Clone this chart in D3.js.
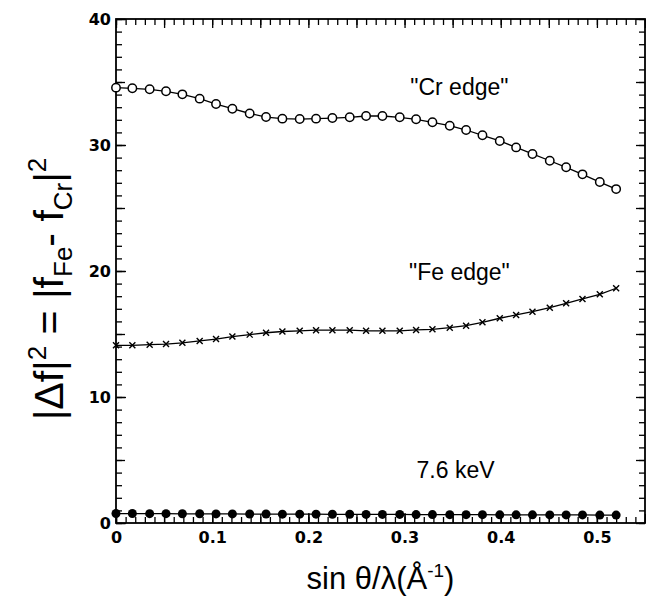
<!DOCTYPE html>
<html lang="en">
<head>
<meta charset="UTF-8">
<title>Scattering factor contrast</title>
<script src="https://d3js.org/d3.v7.min.js"></script>
<style>
  body { margin: 0; background: #fff; }
  .tick text { font-family: "DejaVu Sans", sans-serif; font-weight: bold; font-size: 16px; fill: #000; }
  .tick line { stroke: #000; stroke-width: 1.3px; }
  .note { font-family: "Liberation Sans", Arial, sans-serif; font-size: 23px; }
  .title { font-family: "Liberation Sans", Arial, sans-serif; }
</style>
</head>
<body>
<div id="chart"></div>
<script>
// data (31 points per curve)
const sinThetaOverLambda = [0, 0.017, 0.035, 0.052, 0.069, 0.087, 0.104, 0.121, 0.139, 0.156,
  0.173, 0.191, 0.208, 0.225, 0.243, 0.260, 0.277, 0.295, 0.312, 0.329,
  0.347, 0.364, 0.381, 0.399, 0.416, 0.433, 0.451, 0.468, 0.485, 0.503, 0.520];
const crEdge = [34.55, 34.5, 34.42, 34.26, 34.02, 33.68, 33.25, 32.88, 32.5, 32.22,
  32.09, 32.06, 32.09, 32.14, 32.2, 32.3, 32.3, 32.2, 32.04, 31.8,
  31.53, 31.19, 30.77, 30.32, 29.81, 29.29, 28.75, 28.23, 27.67, 27.06, 26.5];
const feEdge = [14.1, 14.1, 14.15, 14.2, 14.3, 14.45, 14.6, 14.8, 14.95, 15.1,
  15.2, 15.25, 15.3, 15.3, 15.3, 15.25, 15.25, 15.25, 15.32, 15.37,
  15.5, 15.66, 15.93, 16.25, 16.51, 16.77, 17.09, 17.44, 17.78, 18.15, 18.63];
const kev76 = [0.75, 0.75, 0.74, 0.74, 0.73, 0.73, 0.72, 0.72, 0.71, 0.71,
  0.7, 0.7, 0.7, 0.69, 0.69, 0.68, 0.68, 0.68, 0.67, 0.67,
  0.66, 0.66, 0.66, 0.65, 0.65, 0.65, 0.64, 0.64, 0.64, 0.63, 0.63];
const xTickLabels = [0, 0.1, 0.2, 0.3, 0.4, 0.5];
const yTickLabels = [0, 10, 20, 30, 40];
const notes = [
  { text: "\"Cr edge\"", x: 0.357, y: 33.97 },
  { text: "\"Fe edge\"", x: 0.357, y: 19.3 },
  { text: "7.6 keV", x: 0.353, y: 3.57 }
];

const width = 646, height = 596;
const margin = { top: 19, right: 1, bottom: 73, left: 116 };

const svg = d3.select("#chart").append("svg")
  .attr("width", width)
  .attr("height", height);

const x = d3.scaleLinear().domain([0, 0.55]).range([margin.left, width - margin.right]);
const y = d3.scaleLinear().domain([0, 40]).range([height - margin.bottom, margin.top]);

const xMinor = d3.range(0, 56).map(i => i / 100);
const xMid = d3.range(0, 12).map(i => i * 0.05);
const yMinor = d3.range(0, 41);
const yMid = d3.range(0, 9).map(i => i * 5);

function tickLayer(axis, transform) {
  const g = svg.append("g").attr("transform", transform).call(axis);
  g.select(".domain").remove();
  return g;
}

const bottomY = `translate(0,${y(0)})`;
const topY = `translate(0,${y(40)})`;
const leftX = `translate(${x(0)},0)`;
const rightX = `translate(${x(0.55)},0)`;

// inward ticks on all four sides
tickLayer(d3.axisBottom(x).tickValues(xMinor).tickSize(-6).tickFormat(""), bottomY);
tickLayer(d3.axisBottom(x).tickValues(xMid).tickSize(-9).tickFormat(""), bottomY);
tickLayer(d3.axisBottom(x).tickValues(xTickLabels).tickSize(-10).tickPadding(9)
  .tickFormat(d => d === 0 ? "0" : d3.format(".1f")(d)), bottomY);
tickLayer(d3.axisTop(x).tickValues(xMinor).tickSize(-6).tickFormat(""), topY);
tickLayer(d3.axisTop(x).tickValues(xMid).tickSize(-9).tickFormat(""), topY);

tickLayer(d3.axisLeft(y).tickValues(yMinor).tickSize(-6).tickFormat(""), leftX);
tickLayer(d3.axisLeft(y).tickValues(yMid).tickSize(-9).tickFormat(""), leftX);
tickLayer(d3.axisLeft(y).tickValues(yTickLabels).tickSize(-10).tickPadding(5), leftX);
tickLayer(d3.axisRight(y).tickValues(yMinor).tickSize(-6).tickFormat(""), rightX);
tickLayer(d3.axisRight(y).tickValues(yMid).tickSize(-9).tickFormat(""), rightX);

// frame
svg.append("rect")
  .attr("x", x(0)).attr("y", y(40))
  .attr("width", x(0.55) - x(0)).attr("height", y(0) - y(40))
  .attr("fill", "none").attr("stroke", "#000").attr("stroke-width", 1.8);

const line = d3.line()
  .x((d, i) => x(sinThetaOverLambda[i]))
  .y(d => y(d));

[crEdge, feEdge, kev76].forEach(series => {
  svg.append("path")
    .datum(series)
    .attr("d", line)
    .attr("fill", "none")
    .attr("stroke", "#000")
    .attr("stroke-width", 1.3);
});

// open circles
svg.append("g").selectAll("circle")
  .data(crEdge)
  .join("circle")
  .attr("cx", (d, i) => x(sinThetaOverLambda[i]))
  .attr("cy", d => y(d))
  .attr("r", 4.2)
  .attr("fill", "#fff")
  .attr("stroke", "#000")
  .attr("stroke-width", 1.5);

// crosses
svg.append("g").selectAll("path")
  .data(feEdge)
  .join("path")
  .attr("transform", (d, i) => `translate(${x(sinThetaOverLambda[i])},${y(d)})`)
  .attr("d", "M-3,-3L3,3M-3,3L3,-3")
  .attr("stroke", "#000")
  .attr("stroke-width", 1.4);

// filled dots
svg.append("g").selectAll("circle")
  .data(kev76)
  .join("circle")
  .attr("cx", (d, i) => x(sinThetaOverLambda[i]))
  .attr("cy", d => y(d))
  .attr("r", 4.5)
  .attr("fill", "#000");

svg.append("g").selectAll("text")
  .data(notes)
  .join("text")
  .attr("class", "note")
  .attr("x", d => x(d.x))
  .attr("y", d => y(d.y))
  .attr("text-anchor", "middle")
  .text(d => d.text);

// x title
const xt = svg.append("text")
  .attr("class", "title")
  .attr("x", (x(0) + x(0.55)) / 2)
  .attr("y", 589)
  .attr("text-anchor", "middle")
  .attr("font-size", 31);
xt.append("tspan").text("sin θ/λ(Å");
xt.append("tspan").attr("font-size", 19).attr("dy", -12).text("-1");
xt.append("tspan").attr("dy", 12).text(")");

// y title
const yt = svg.append("text")
  .attr("class", "title")
  .attr("transform", "translate(63,289) rotate(-90)")
  .attr("text-anchor", "middle")
  .attr("font-size", 41);
yt.append("tspan").text("|Δf|");
yt.append("tspan").attr("font-size", 26).attr("dy", -17).text("2");
yt.append("tspan").attr("dy", 17).text(" = |f");
yt.append("tspan").attr("font-size", 26).attr("dy", 9).text("Fe");
yt.append("tspan").attr("dy", -9).text("- f");
yt.append("tspan").attr("font-size", 26).attr("dy", 9).text("Cr");
yt.append("tspan").attr("dy", -9).text("|");
yt.append("tspan").attr("font-size", 26).attr("dy", -17).text("2");
</script>
</body>
</html>
